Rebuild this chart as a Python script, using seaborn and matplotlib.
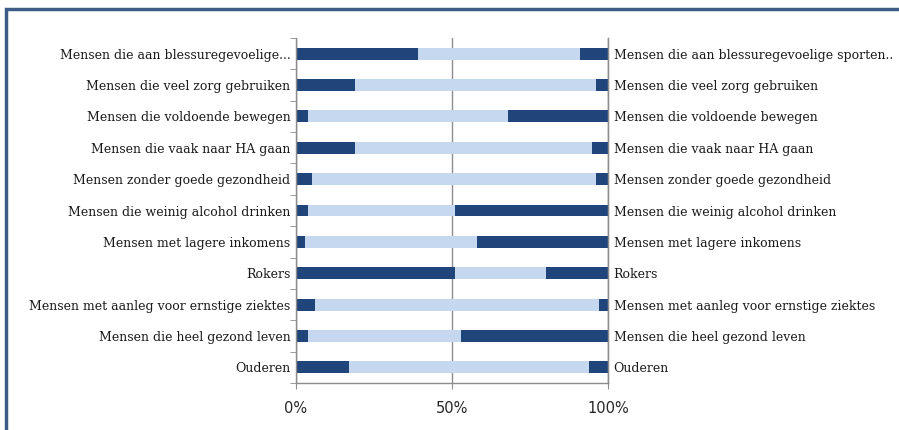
import matplotlib
matplotlib.use('Agg')
import matplotlib.pyplot as plt
import seaborn as sns
import pandas as pd
from matplotlib.patches import Rectangle
from matplotlib.ticker import FixedLocator

# Data (percentages)
labels_left = ['Mensen die aan blessuregevoelige...', 'Mensen die veel zorg gebruiken',
               'Mensen die voldoende bewegen', 'Mensen die vaak naar HA gaan',
               'Mensen zonder goede gezondheid', 'Mensen die weinig alcohol drinken',
               'Mensen met lagere inkomens', 'Rokers',
               'Mensen met aanleg voor ernstige ziektes', 'Mensen die heel gezond leven',
               'Ouderen']
labels_right = ['Mensen die aan blessuregevoelige sporten..'] + labels_left[1:]
seg_first = [39, 19, 4, 19, 5, 4, 3, 51, 6, 4, 17]
seg_middle = [52, 77, 64, 76, 91, 47, 55, 29, 91, 49, 77]
seg_last = [9, 4, 32, 5, 4, 49, 42, 20, 3, 47, 6]

df = pd.DataFrame({'label': labels_left, 'first': seg_first,
                   'middle': seg_middle, 'last': seg_last})
df['cum_mid'] = df['first'] + df['middle']
df['total'] = df['cum_mid'] + df['last']

dark = '#1f457a'
light = '#c6d8ef'
grey = '#8c8c8c'

sns.set_style('white')
plt.rcParams['font.family'] = ['DejaVu Serif']

fig = plt.figure(figsize=(8.99, 4.30), dpi=100)
ax = fig.add_axes([296 / 899, 47 / 430, 312 / 899, 345 / 430])

# stacked bars: draw cumulative totals on top of each other
for col, c in [('total', dark), ('cum_mid', light), ('first', dark)]:
    sns.barplot(data=df, x=col, y='label', color=c, saturation=1, width=0.38, ax=ax, orient='h')
for p in ax.patches:
    p.set_edgecolor('none')

ax.set_xlim(0, 100)
ax.set_xticks([0, 50, 100])
ax.set_xticklabels(['0%', '50%', '100%'], family=['DejaVu Sans'], fontsize=10.5, color='#262626')
ax.set_xlabel('')
ax.set_ylabel('')
ax.xaxis.grid(True, color=grey, linewidth=1)
ax.set_axisbelow(True)
ax.tick_params(axis='x', length=4, color=grey, direction='out', bottom=True, pad=9)

n = len(labels_left)
ax.tick_params(axis='y', which='major', length=0, labelsize=9.0, labelcolor='#1a1a1a', pad=4)
ax.yaxis.set_minor_locator(FixedLocator([i - 0.5 for i in range(n + 1)]))
ax.tick_params(axis='y', which='minor', length=4, color=grey, left=True)

for side in ['left', 'bottom', 'right']:
    ax.spines[side].set_color(grey)
    ax.spines[side].set_linewidth(1)
ax.spines['top'].set_visible(False)

ax2 = ax.twinx()
ax2.set_ylim(ax.get_ylim())
ax2.set_yticks(range(n))
ax2.set_yticklabels(labels_right)
ax2.tick_params(axis='y', length=0, labelsize=9.0, labelcolor='#1a1a1a', pad=4)
for side in ['left', 'bottom', 'top']:
    ax2.spines[side].set_visible(False)
ax2.spines['right'].set_color(grey)

# frame around the chart
fig.patches.append(Rectangle((6 / 899, -0.02), 0.995 - 6 / 899 + 0.02, 1 - 9 / 430 + 0.02,
                             transform=fig.transFigure, fill=False,
                             edgecolor='#3d5c86', linewidth=2.5))

fig.savefig('out.png', dpi=100)
